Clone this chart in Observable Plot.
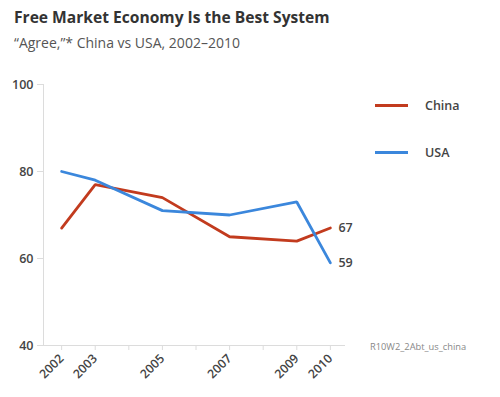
<!DOCTYPE html>
<html>
<head>
<meta charset="utf-8">
<script src="https://cdn.jsdelivr.net/npm/d3@7"></script>
<script src="https://cdn.jsdelivr.net/npm/@observablehq/plot@0.6"></script>
<style>
  html, body { margin: 0; padding: 0; background: #fff; }
  #wrap { position: relative; width: 500px; height: 397px; font-family: "Open Sans", "Noto Sans", sans-serif; }
  #title { position: absolute; left: 14px; top: 6px; font-size: 15.6px; font-weight: 700; color: #333; white-space: nowrap; }
  #subtitle { position: absolute; left: 14px; top: 33px; font-size: 14px; color: #555; white-space: nowrap; }
  #chart { position: absolute; left: 0; top: 60px; }
  .legend { position: absolute; left: 375px; font-size: 12.5px; font-weight: 600; color: #444; display: flex; align-items: center; }
  .legend span.sw { display: inline-block; width: 33px; height: 3px; margin-right: 17px; }
  #caption { position: absolute; left: 370px; top: 340px; font-size: 9.3px; color: #888; white-space: nowrap; }
</style>
</head>
<body>
<div id="wrap">
  <div id="title">Free Market Economy Is the Best System</div>
  <div id="subtitle">“Agree,”* China vs USA, 2002–2010</div>
  <div id="chart"></div>
  <div id="legend"></div>
  <div id="caption">R10W2_2Abt_us_china</div>
</div>
<script>
const years = [2002, 2003, 2005, 2007, 2009, 2010];
const china = [67, 77, 74, 65, 64, 67];
const usa = [80, 78, 71, 70, 73, 59];
const seriesNames = ["China", "USA"];
const seriesColors = ["#c23b1e", "#3b87dc"];
const yTicks = [40, 60, 80, 100];
const xTickYears = [2002, 2003, 2004, 2005, 2006, 2007, 2008, 2009, 2010];
const xLabelYears = [2002, 2003, 2005, 2007, 2009, 2010];
const xDomain = [2001.46, 2010.45];
const yDomain = [40, 100];

const data = [];
years.forEach((yr, i) => {
  data.push({series: "China", year: yr, value: china[i]});
  data.push({series: "USA", year: yr, value: usa[i]});
});
const last = data.filter(d => d.year === years[years.length - 1]);

const chart = Plot.plot({
  width: 500,
  height: 337,
  marginLeft: 43,
  marginRight: 155,
  marginTop: 24,
  marginBottom: 52,
  style: {fontFamily: '"Open Sans", "Noto Sans", sans-serif', background: "transparent"},
  x: {domain: xDomain},
  y: {domain: yDomain},
  color: {domain: seriesNames, range: seriesColors},
  marks: [
    Plot.ruleY([yDomain[0]], {stroke: "#dcdcdc", strokeWidth: 1}),
    Plot.ruleX([xDomain[0]], {stroke: "#dcdcdc", strokeWidth: 1}),
    Plot.axisY({ticks: yTicks, tickSize: 6, tickPadding: 4, stroke: "#dcdcdc", fill: "#444", fontSize: 12.5, fontWeight: 600, label: null}),
    Plot.axisX({ticks: xTickYears, tickSize: 5, tickPadding: 6, tickRotate: -45,
      tickFormat: d => xLabelYears.includes(d) ? String(d) : "",
      stroke: "#dcdcdc", fill: "#444", fontSize: 12.3, fontWeight: 600, label: null}),
    Plot.line(data, {x: "year", y: "value", z: "series", stroke: "series", strokeWidth: 2.8, strokeLinejoin: "miter"}),
    Plot.text(last, {x: "year", y: "value", text: d => String(d.value), dx: 8, textAnchor: "start", fill: "#444", fontSize: 12.5, fontWeight: 600})
  ]
});
document.getElementById("chart").appendChild(chart);

const legend = document.getElementById("legend");
const legendTops = [97, 144];
seriesNames.forEach((name, i) => {
  const row = document.createElement("div");
  row.className = "legend";
  row.style.top = legendTops[i] + "px";
  row.innerHTML = `<span class="sw" style="background:${seriesColors[i]}"></span>${name}`;
  legend.appendChild(row);
});
</script>
</body>
</html>
